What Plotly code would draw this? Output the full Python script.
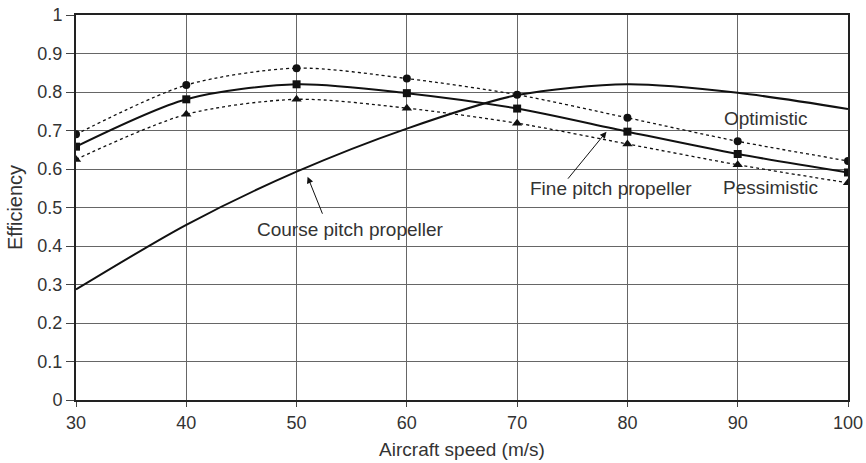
import plotly.graph_objects as go

speed = [30, 40, 50, 60, 70, 80, 90, 100]
fine_pitch = [0.658, 0.781, 0.820, 0.797, 0.757, 0.697, 0.639, 0.591]
optimistic = [0.690, 0.818, 0.862, 0.835, 0.793, 0.733, 0.672, 0.621]
pessimistic = [0.625, 0.742, 0.781, 0.758, 0.719, 0.665, 0.611, 0.564]
course_pitch = [0.287, 0.455, 0.593, 0.705, 0.792, 0.820, 0.798, 0.756]

x_ticks = [30, 40, 50, 60, 70, 80, 90, 100]
y_ticks = [0, 0.1, 0.2, 0.3, 0.4, 0.5, 0.6, 0.7, 0.8, 0.9, 1]
y_tick_text = ["0", "0.1", "0.2", "0.3", "0.4", "0.5", "0.6", "0.7", "0.8", "0.9", "1"]

FONT = "Liberation Sans, Arial, sans-serif"
TXT = "#333333"

fig = go.Figure()
fig.add_trace(go.Scatter(x=speed, y=course_pitch, mode="lines",
                         line=dict(color="#111111", width=2, shape="spline", smoothing=0.8),
                         name="Course pitch propeller"))
fig.add_trace(go.Scatter(x=speed, y=optimistic, mode="lines+markers",
                         line=dict(color="#111111", width=1.3, dash="dot", shape="spline", smoothing=0.8),
                         marker=dict(symbol="circle", size=8, color="#111111"),
                         name="Optimistic"))
fig.add_trace(go.Scatter(x=speed, y=pessimistic, mode="lines+markers",
                         line=dict(color="#111111", width=1.3, dash="dot", shape="spline", smoothing=0.8),
                         marker=dict(symbol="triangle-up", size=9, color="#111111"),
                         name="Pessimistic"))
fig.add_trace(go.Scatter(x=speed, y=fine_pitch, mode="lines+markers",
                         line=dict(color="#111111", width=2, shape="spline", smoothing=0.8),
                         marker=dict(symbol="square", size=8, color="#111111"),
                         name="Fine pitch propeller"))

ann_font = dict(family=FONT, size=19, color=TXT)
fig.add_annotation(x=92.5, y=0.732, text="Optimistic", showarrow=False, font=ann_font)
fig.add_annotation(x=93.0, y=0.553, text="Pessimistic", showarrow=False, font=ann_font)
fig.add_annotation(x=78.5, y=0.55, text="Fine pitch propeller", showarrow=False, font=ann_font)
fig.add_annotation(x=54.9, y=0.442, text="Course pitch propeller", showarrow=False, font=ann_font)
fig.add_annotation(x=78.1, y=0.697, ax=74.5, ay=0.571, axref="x", ayref="y",
                   text="", showarrow=True, arrowhead=2, arrowsize=1.3, arrowwidth=1, arrowcolor="#111111")
fig.add_annotation(x=51.0, y=0.58, ax=52.4, ay=0.48, axref="x", ayref="y",
                   text="", showarrow=True, arrowhead=2, arrowsize=1.3, arrowwidth=1, arrowcolor="#111111")

axis_common = dict(showline=True, linecolor="#222222", linewidth=2, mirror=True,
                   showgrid=True, gridcolor="#666666", gridwidth=1,
                   ticks="outside", tickcolor="#444444", automargin=False,
                   ticklabeloverflow="allow",
                   tickfont=dict(family=FONT, size=18, color=TXT), zeroline=False)

fig.update_layout(
    width=866, height=463,
    margin=dict(l=76, r=18, t=15, b=63),
    plot_bgcolor="white", paper_bgcolor="white",
    showlegend=False,
    xaxis=dict(range=[30, 100], tickvals=x_ticks, ticktext=[str(v) for v in x_ticks], ticklen=5,
               title=dict(text="Aircraft speed (m/s)", font=dict(family=FONT, size=19, color=TXT), standoff=11),
               **axis_common),
    yaxis=dict(range=[0, 1], tickvals=y_ticks, ticktext=y_tick_text, ticklen=8,
               title=dict(text="Efficiency", font=dict(family=FONT, size=20, color=TXT), standoff=9),
               **axis_common),
)

# remove the browser's default 8px page margin so the figure fills the window
fig.write_html("out.html", config={"displayModeBar": False},
               post_script="document.body.style.margin='0';")
